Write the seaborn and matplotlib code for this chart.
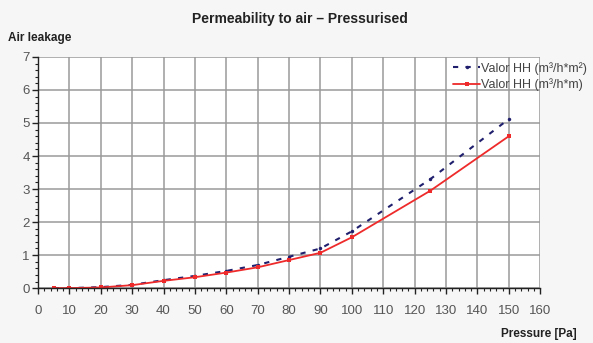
import matplotlib
matplotlib.use("Agg")
import matplotlib.pyplot as plt
import seaborn as sns
import pandas as pd
from matplotlib.ticker import MultipleLocator

pressure = [5, 10, 20, 30, 40, 50, 60, 70, 80, 90, 100, 125, 150]
valor_m2 = [0.0, 0.0, 0.03, 0.10, 0.24, 0.37, 0.52, 0.70, 0.95, 1.20, 1.72, 3.30, 5.12]
valor_m = [0.0, 0.0, 0.02, 0.09, 0.22, 0.33, 0.47, 0.63, 0.85, 1.07, 1.54, 2.95, 4.60]
series_names = ["Valor HH (m³/h*m²)", "Valor HH (m³/h*m)"]

sns.set_style("white")
plt.rcParams['font.family'] = ['Liberation Sans', 'DejaVu Sans']

df = pd.DataFrame({
    "pressure": pressure * 2,
    "value": valor_m2 + valor_m,
    "series": [series_names[0]] * len(pressure) + [series_names[1]] * len(pressure),
})

fig = plt.figure(figsize=(5.93, 3.43), dpi=100)
fig.patch.set_facecolor("#f6f6f6")
ax = fig.add_axes([0.064, 0.160, 0.847, 0.674])
ax.set_facecolor("white")

sns.lineplot(data=df[df.series == series_names[0]], x="pressure", y="value", ax=ax,
             color="#1f1f6e", linestyle=(0, (2.5, 3.5)), linewidth=1.5,
             marker="o", markersize=2.5, markeredgewidth=0, label=series_names[0])
sns.lineplot(data=df[df.series == series_names[1]], x="pressure", y="value", ax=ax,
             color="#ee2a2a", linestyle="-", linewidth=1.3,
             marker="s", markersize=3, markeredgewidth=0, label=series_names[1])

ax.set_xlim(0, 160)
ax.set_ylim(0, 7)
ax.xaxis.set_major_locator(MultipleLocator(10))
ax.xaxis.set_minor_locator(MultipleLocator(2))
ax.yaxis.set_major_locator(MultipleLocator(1))
ax.yaxis.set_minor_locator(MultipleLocator(0.2))
ax.grid(True, which="major", color="#9a9a9a", linewidth=1.1)
ax.set_axisbelow(True)
for s in ["top", "right"]:
    ax.spines[s].set_visible(False)
for s in ["left", "bottom"]:
    ax.spines[s].set_color("#222222")
    ax.spines[s].set_linewidth(1.0)
ax.tick_params(axis="both", which="both", bottom=True, left=True)
ax.tick_params(axis="both", which="major", direction="out", length=4, width=1,
               color="#222222", labelsize=9.5, labelcolor="#555555", pad=8)
ax.tick_params(axis="both", which="minor", direction="out", length=2.5, width=0.8,
               color="#222222")
ax.tick_params(axis="y", which="major", pad=2)
ax.set_xlabel("")
ax.set_ylabel("")

leg = ax.legend(loc="upper right", bbox_to_anchor=(1.103, 1.0), frameon=False,
                fontsize=9, handlelength=2.2, handletextpad=0.05, labelspacing=0.3,
                borderaxespad=0)
for t in leg.get_texts():
    t.set_color("#444444")

fig.text(0.505, 0.945, "Permeability to air – Pressurised", ha="center", va="center",
         fontsize=10, fontweight="bold", color="#222222")
fig.text(0.013, 0.888, "Air leakage", ha="left", va="center",
         fontsize=8.5, fontweight="bold", color="#222222")
fig.text(0.972, 0.025, "Pressure [Pa]", ha="right", va="center",
         fontsize=8.5, fontweight="bold", color="#222222")

fig.savefig("out.png", dpi=100, facecolor=fig.get_facecolor())
